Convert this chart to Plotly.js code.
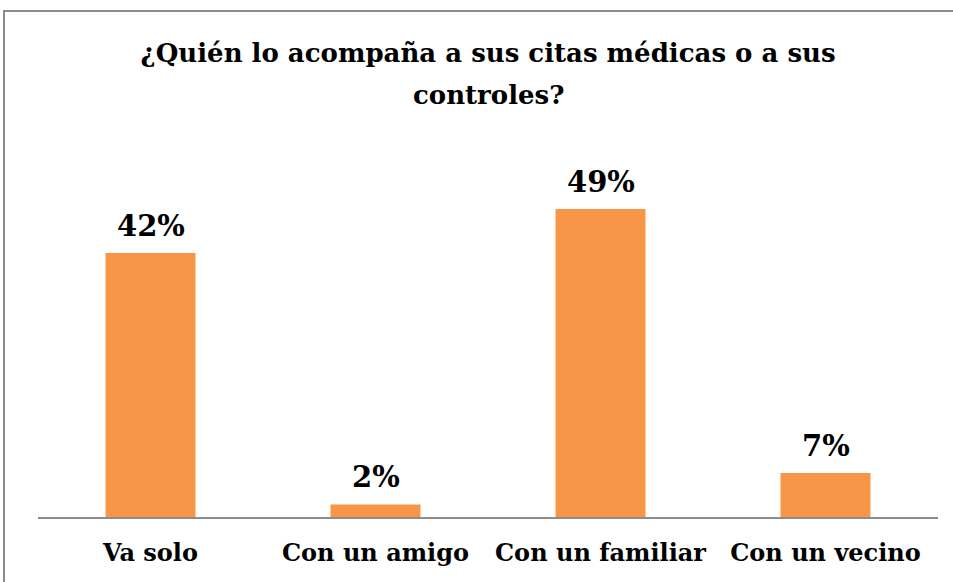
<!DOCTYPE html>
<html>
<head>
<meta charset="utf-8">
<script src="https://cdn.plot.ly/plotly-3.0.1.min.js"></script>
<style>html,body{margin:0;padding:0;background:#fff;}#chart{width:953px;height:582px;}</style>
</head>
<body>
<div id="chart"></div>
<script>
var categories = ["Va solo", "Con un amigo", "Con un familiar", "Con un vecino"];
var values = [42, 2, 49, 7];
var labels = ["42%", "2%", "49%", "7%"];
var titleLine1 = "¿Quién lo acompaña a sus citas médicas o a sus";
var titleLine2 = "controles?";

var FONT = "DejaVu Serif, Liberation Serif, serif";
var W = 953, H = 582, L = 38, R = 15, T = 150, B = 65;
var pw = W - L - R, ph = H - T - B;

var trace = {
  type: "bar",
  x: categories,
  y: values,
  marker: {color: "#f79646"},
  width: 0.4,
  hoverinfo: "none"
};

var annotations = categories.map(function (c, i) {
  return {
    x: c, y: values[i], xref: "x", yref: "y",
    text: labels[i], showarrow: false,
    xanchor: "center", yanchor: "middle", yshift: 27,
    font: {family: FONT, size: 29, color: "#000", weight: "bold"}
  };
});
annotations.push({
  xref: "paper", yref: "paper", x: 0.5, y: (T + ph - 95) / ph,
  xanchor: "center", yanchor: "middle", showarrow: false,
  text: titleLine2,
  font: {family: FONT, size: 26, color: "#000", weight: "bold"}
});

var layout = {
  width: W, height: H,
  margin: {l: L, r: R, t: T, b: B, pad: 0},
  paper_bgcolor: "#fff",
  plot_bgcolor: "#fff",
  showlegend: false,
  title: {
    text: titleLine1,
    font: {family: FONT, size: 26, color: "#000", weight: "bold"},
    x: 0.5, xanchor: "center", xref: "paper",
    y: 1 - 53 / H, yanchor: "middle"
  },
  annotations: annotations,
  xaxis: {
    type: "category",
    showline: true, linecolor: "#8c8c8c", linewidth: 2,
    ticks: "", showgrid: false, zeroline: false,
    tickfont: {family: FONT, size: 24, color: "#000", weight: "bold"},
    ticklabelstandoff: 13
  },
  yaxis: {
    range: [0, ph / 6.286],
    visible: false, showgrid: false, zeroline: false
  },
  shapes: [{
    type: "rect", xref: "paper", yref: "paper",
    x0: (4 - L) / pw, x1: (W + 10 - L) / pw,
    y0: -(H + 10 - (T + ph)) / ph, y1: (T + ph - 11) / ph,
    line: {color: "#8c8c8c", width: 2}, fillcolor: "rgba(0,0,0,0)", layer: "below"
  }]
};

Plotly.newPlot("chart", [trace], layout, {displayModeBar: false, staticPlot: true});
</script>
</body>
</html>
